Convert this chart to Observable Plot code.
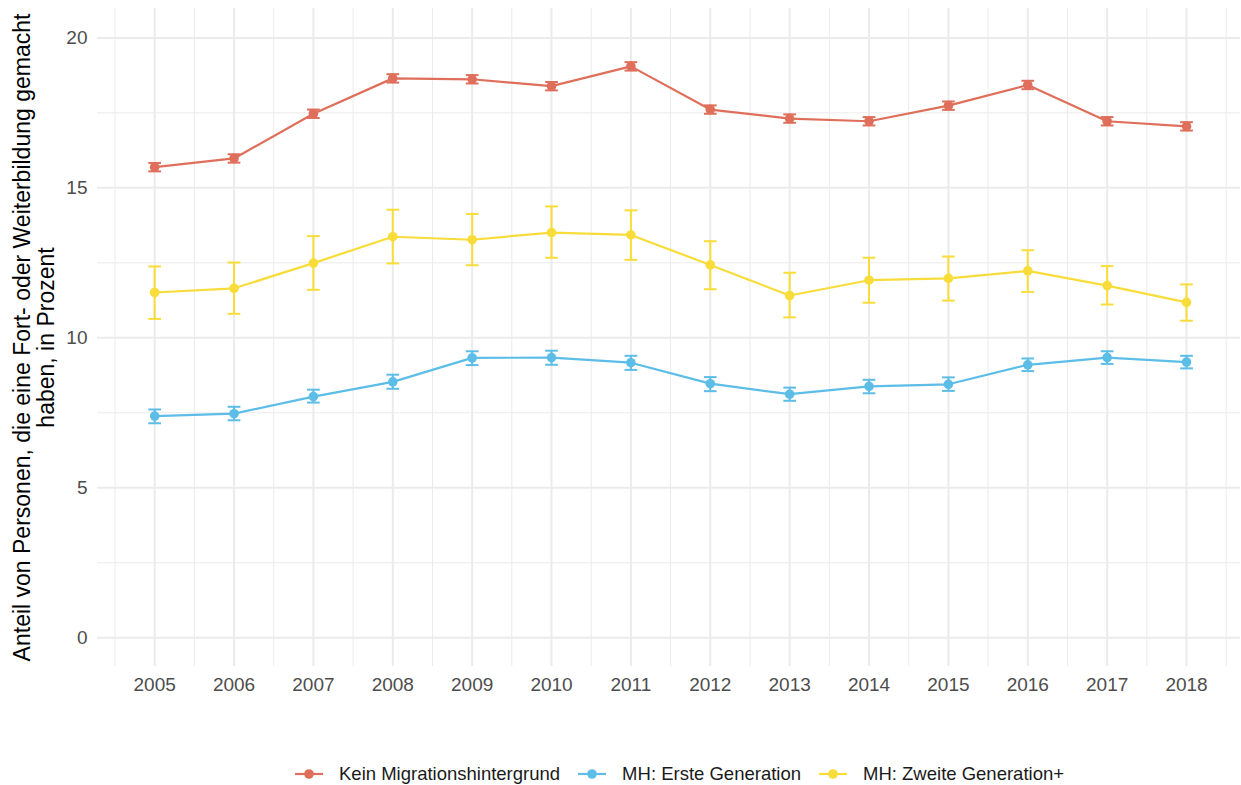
<!DOCTYPE html>
<html>
<head>
<meta charset="utf-8">
<script src="https://cdn.jsdelivr.net/npm/d3@7"></script>
<script src="https://cdn.jsdelivr.net/npm/@observablehq/plot@0.6"></script>
<style>
  html, body { margin: 0; padding: 0; background: #fff; }
  body { font-family: "Liberation Sans", Arial, sans-serif; width: 1241px; height: 785px; overflow: hidden; position: relative; }
  #legend { position: absolute; left: 294px; top: 763px; display: flex; align-items: center; font-size: 18.5px; color: #1a1a1a; white-space: nowrap; }
  .item { display: flex; align-items: center; margin-right: 17px; }
  .item svg { margin-right: 15px; }
</style>
</head>
<body>
<div id="chart"></div>
<div id="legend"></div>
<script>
// ---- data ----
const years = [2005, 2006, 2007, 2008, 2009, 2010, 2011, 2012, 2013, 2014, 2015, 2016, 2017, 2018];
const seriesNames = ["Kein Migrationshintergrund", "MH: Erste Generation", "MH: Zweite Generation+"];
const seriesColors = ["#DF6F5B", "#5CBDE7", "#F8DC3A"];

const kein   = [15.69, 15.98, 17.47, 18.65, 18.62, 18.39, 19.05, 17.61, 17.31, 17.22, 17.74, 18.43, 17.22, 17.05];
const keinLo = [15.55, 15.84, 17.33, 18.51, 18.48, 18.25, 18.91, 17.47, 17.17, 17.08, 17.60, 18.29, 17.08, 16.91];
const keinHi = [15.83, 16.12, 17.61, 18.79, 18.76, 18.53, 19.19, 17.75, 17.45, 17.36, 17.88, 18.57, 17.36, 17.19];

const erste   = [7.39, 7.47, 8.04, 8.53, 9.33, 9.34, 9.17, 8.47, 8.12, 8.38, 8.45, 9.10, 9.34, 9.19];
const ersteLo = [7.15, 7.25, 7.84, 8.30, 9.09, 9.10, 8.93, 8.22, 7.90, 8.15, 8.23, 8.89, 9.13, 8.98];
const ersteHi = [7.61, 7.70, 8.27, 8.77, 9.55, 9.57, 9.40, 8.69, 8.34, 8.60, 8.68, 9.31, 9.55, 9.40];

const zweite   = [11.51, 11.65, 12.49, 13.37, 13.27, 13.51, 13.43, 12.43, 11.41, 11.92, 11.98, 12.23, 11.74, 11.18];
const zweiteLo = [10.63, 10.80, 11.60, 12.48, 12.42, 12.67, 12.60, 11.62, 10.68, 11.17, 11.24, 11.53, 11.11, 10.57];
const zweiteHi = [12.38, 12.51, 13.39, 14.27, 14.13, 14.38, 14.25, 13.22, 12.17, 12.67, 12.71, 12.92, 12.39, 11.78];

const yTicks = [0, 5, 10, 15, 20];
const yMinor = [2.5, 7.5, 12.5, 17.5];
const xMinor = [2004.5, 2005.5, 2006.5, 2007.5, 2008.5, 2009.5, 2010.5, 2011.5, 2012.5, 2013.5, 2014.5, 2015.5, 2016.5, 2017.5, 2018.5];
const yTitle = "Anteil von Personen, die eine Fort- oder Weiterbildung gemacht\nhaben, in Prozent";

// ---- table ----
const sets = [[kein, keinLo, keinHi], [erste, ersteLo, ersteHi], [zweite, zweiteLo, zweiteHi]];
const rows = [];
sets.forEach(([v, lo, hi], s) => {
  years.forEach((yr, i) => rows.push({series: seriesNames[s], year: yr, value: v[i], lo: lo[i], hi: hi[i]}));
});

const grid = "#EBEBEB";
const capHalf = 0.08;

const chart = Plot.plot({
  width: 1241,
  height: 745,
  marginTop: 8,
  marginBottom: 79,
  marginLeft: 97,
  marginRight: 1,
  style: {fontFamily: '"Liberation Sans", Arial, sans-serif', fontSize: "19px", color: "#4D4D4D", background: "#fff"},
  x: {domain: [2004.28, 2018.68], ticks: years, tickFormat: d => String(d), tickSize: 0, tickPadding: 11, label: null},
  y: {domain: [-0.96, 20.98], ticks: yTicks, tickSize: 0, tickPadding: 10, label: null},
  color: {domain: seriesNames, range: seriesColors},
  marks: [
    Plot.ruleX(xMinor, {stroke: grid, strokeWidth: 1}),
    Plot.ruleY(yMinor, {stroke: grid, strokeWidth: 1}),
    Plot.ruleX(years, {stroke: grid, strokeWidth: 2}),
    Plot.ruleY(yTicks, {stroke: grid, strokeWidth: 2}),
    Plot.line(rows, {x: "year", y: "value", z: "series", stroke: "series", strokeWidth: 2.2}),
    Plot.ruleX(rows, {x: "year", y1: "lo", y2: "hi", stroke: "series", strokeWidth: 2}),
    Plot.link(rows, {x1: d => d.year - capHalf, x2: d => d.year + capHalf, y1: "hi", y2: "hi", stroke: "series", strokeWidth: 2}),
    Plot.link(rows, {x1: d => d.year - capHalf, x2: d => d.year + capHalf, y1: "lo", y2: "lo", stroke: "series", strokeWidth: 2}),
    Plot.dot(rows, {x: "year", y: "value", fill: "series", r: 4.8}),
    Plot.text([yTitle], {frameAnchor: "left", dx: -63, rotate: -90, textAnchor: "middle", lineAnchor: "middle", fontSize: 23, lineHeight: 1.02, fill: "#000"})
  ]
});
document.getElementById("chart").appendChild(chart);

// ---- legend ----
const legend = d3.select("#legend");
seriesNames.forEach((name, i) => {
  const item = legend.append("div").attr("class", "item");
  const svg = item.append("svg").attr("width", 30).attr("height", 14);
  svg.append("line").attr("x1", 1).attr("x2", 29).attr("y1", 7).attr("y2", 7).attr("stroke", seriesColors[i]).attr("stroke-width", 2.2);
  svg.append("circle").attr("cx", 15).attr("cy", 7).attr("r", 4.8).attr("fill", seriesColors[i]);
  item.append("span").text(name);
});
</script>
</body>
</html>
